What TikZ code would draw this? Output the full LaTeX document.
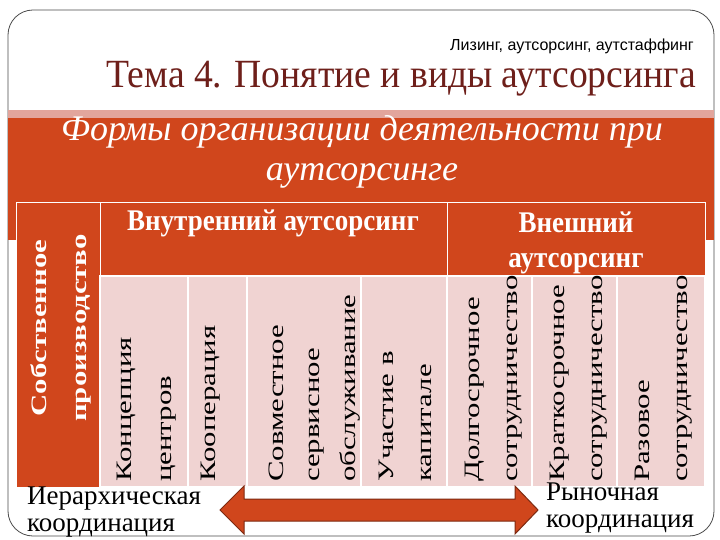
\documentclass[tikz,border=0pt]{standalone}
\usepackage{fontspec}
\usepackage{graphicx}
\setmainfont{Liberation Serif}
\newfontfamily\sansf{Liberation Sans}
\usetikzlibrary{arrows.meta}
\definecolor{org}{HTML}{D0461C}
\definecolor{pinkc}{HTML}{F0D3D2}
\definecolor{pinkband}{HTML}{E2A59C}
\definecolor{dred}{HTML}{6E1F1A}
\newcommand{\vt}[1]{\scalebox{1.4}[1]{\begin{tabular}{@{}l@{}}#1\end{tabular}}}
\begin{document}
\begin{tikzpicture}[x=1pt,y=-1pt,
  hcell/.style={fill=org,draw=white,line width=1pt},
  cell/.style={fill=pinkc,draw=white,line width=1.5pt},
  vtxt/.style={rotate=90,anchor=north west,align=left,font=\fontsize{22}{36}\selectfont,inner sep=0pt},
  htxt/.style={text=white,font=\bfseries\fontsize{30}{35}\selectfont,align=center,inner sep=0pt}]
\useasboundingbox (0,0) rectangle (720,540);
\fill[white] (0,0) rectangle (720,540);
\draw[black!70,line width=0.8pt,rounded corners=25pt] (8,10) rectangle (714,536);
\fill[pinkband] (8,110) rectangle (714,118);
\fill[org] (8,118) rectangle (714,240);
\node[anchor=east,font=\sansf\fontsize{16}{18}\selectfont,inner sep=1pt] (sub) at (695,46) {Лизинг, аутсорсинг, аутстаффинг};
\node[anchor=east,text=dred,font=\fontsize{40}{44}\selectfont,inner sep=1pt] (title) at (697,79) {\scalebox{0.94}[1]{Тема 4. Понятие и виды аутсорсинга}};
\node[text=white,font=\itshape\fontsize{36}{40}\selectfont,align=center] (form) at (362,152) {Формы организации деятельности при\\аутсорсинге};
% table
\draw[hcell] (16,203) rectangle (100,487);
\draw[hcell] (100,203) rectangle (447,276);
\draw[hcell] (447,203) rectangle (705,276);
\node[htxt,anchor=north] (int) at (273,210) {\scalebox{0.9}[1]{Внутренний аутсорсинг}};
\node[htxt,anchor=north] (ext) at (576,208) {\scalebox{0.9}[1]{\begin{tabular}{@{}c@{}}Внешний\\аутсорсинг\end{tabular}}};
\node[rotate=90,text=white,font=\bfseries\fontsize{22}{40}\selectfont] (own) at (58,328) {\scalebox{1.4}[1]{\begin{tabular}{@{}c@{}}Собственное\\производство\end{tabular}}};
\foreach \a/\b in {100/188,188/247,247/361,361/447,447/532,532/617,617/705}
  \draw[cell] (\a,276) rectangle (\b,487);
\node[vtxt] (c1) at (106,482) {\vt{Концепция\\[4pt]центров}};
\node[vtxt] (c2) at (190,482) {\vt{Кооперация}};
\node[vtxt] (c3) at (258,482) {\vt{Совместное\\сервисное\\обслуживание}};
\node[vtxt] (c4) at (368,482) {\vt{Участие в\\[2pt]капитале}};
\node[vtxt] (c5) at (454,482) {\vt{Долгосрочное\\[2pt]сотрудничество}};
\node[vtxt] (c6) at (539,482) {\vt{Краткосрочное\\[2pt]сотрудничество}};
\node[vtxt] (c7) at (624,482) {\vt{Разовое\\[2pt]сотрудничество}};
\node[anchor=north west,align=left,inner sep=0pt,font=\fontsize{27}{27}\selectfont] (hier) at (27,487) {Иерархическая\\координация};
\node[anchor=north west,align=left,inner sep=0pt,font=\fontsize{27}{27}\selectfont] (mark) at (546,483) {Рыночная\\координация};
\coordinate (al) at (220,510);
\coordinate (ar) at (538,510);
\draw[draw=org!60!black,fill=org,line width=1pt]
  (al) -- (244,486) -- (244,499) -- (515,499) -- (515,486) -- (ar) -- (515,534) -- (515,521) -- (244,521) -- (244,534) -- cycle;
\end{tikzpicture}
\end{document}
